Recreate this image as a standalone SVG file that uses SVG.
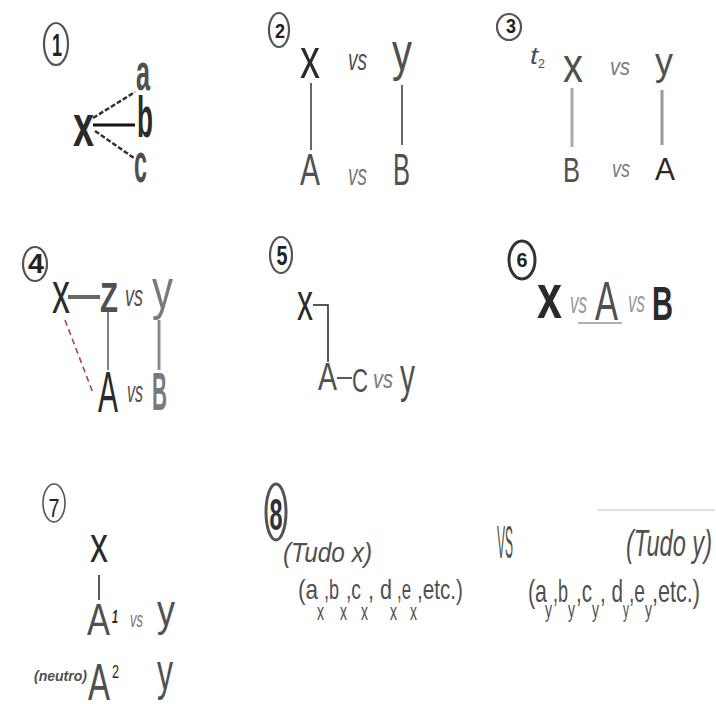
<svg xmlns="http://www.w3.org/2000/svg" width="716" height="704" viewBox="0 0 716 704">
<style>
text{font-family:"Liberation Sans","DejaVu Sans",sans-serif;}
.d{fill:#2a2a2a}.g{fill:#505050}.l{fill:#7a7a7a}.ll{fill:#999}
.it{font-style:italic}.b{font-weight:bold}
.oval{fill:none;stroke:#555;stroke-width:2.2}
.n{font-weight:bold;fill:#222;text-anchor:middle}
.c{stroke:#333;stroke-width:1.5;fill:none}
.cg{stroke:#8a8a8a;stroke-width:3;fill:none}
</style>
<rect width="716" height="704" fill="#fff"/>

<!-- circled numbers -->
<g id="num1"><ellipse class="oval" cx="56" cy="44" rx="12" ry="21"/><text class="n" x="57" y="56" font-size="32" textLength="10" lengthAdjust="spacingAndGlyphs">1</text></g>
<g id="num2"><ellipse class="oval" cx="279" cy="30" rx="10" ry="17"/><text class="n" x="280" y="38" font-size="21" textLength="10" lengthAdjust="spacingAndGlyphs">2</text></g>
<g id="num3"><ellipse class="oval" cx="509" cy="27" rx="12" ry="13"/><text class="n" x="511" y="33" font-size="20" textLength="10" lengthAdjust="spacingAndGlyphs">3</text></g>
<g id="num4"><ellipse class="oval" cx="35" cy="264" rx="12" ry="17"/><text class="n" x="36" y="273" font-size="27" textLength="16" lengthAdjust="spacingAndGlyphs">4</text></g>
<g id="num5"><ellipse class="oval" cx="281" cy="255" rx="11" ry="18"/><text class="n" x="282" y="265" font-size="27" textLength="11" lengthAdjust="spacingAndGlyphs">5</text></g>
<g id="num6"><ellipse class="oval" cx="522" cy="260" rx="13" ry="19" style="stroke:#333;stroke-width:3"/><text class="n" x="522" y="267" font-size="21" textLength="11" lengthAdjust="spacingAndGlyphs">6</text></g>
<g id="num7"><ellipse class="oval" cx="54" cy="503" rx="11" ry="19" style="stroke-width:1.6"/><text class="n" x="54" y="517" font-size="26" textLength="11" lengthAdjust="spacingAndGlyphs" style="font-weight:normal">7</text></g>
<g id="num8"><ellipse class="oval" cx="276" cy="512" rx="10" ry="28" style="stroke-width:3"/><text class="n" x="276" y="530" font-size="44" textLength="13" lengthAdjust="spacingAndGlyphs" style="fill:#333">8</text></g>

<!-- connectors -->
<g id="connectors">
  <line class="c" x1="93" y1="118" x2="135" y2="92" stroke-dasharray="5 2" style="stroke-width:2.5"/>
  <line class="c" x1="93" y1="125" x2="135" y2="125" style="stroke-width:3;stroke:#111"/>
  <line class="c" x1="95" y1="131" x2="134" y2="158" stroke-dasharray="5 2" style="stroke-width:2.5"/>
  <line class="c" x1="311" y1="83" x2="311" y2="150"/>
  <line class="c" x1="402" y1="85" x2="402" y2="145"/>
  <line class="cg" x1="572" y1="88" x2="572" y2="147" style="stroke:#aaa"/>
  <line class="cg" x1="662" y1="90" x2="662" y2="145" style="stroke:#999"/>
  <line class="c" x1="68" y1="297" x2="100" y2="297" style="stroke:#666;stroke-width:4"/>
  <line class="c" x1="108" y1="312" x2="108" y2="370" style="stroke:#555"/>
  <line class="cg" x1="159" y1="320" x2="159" y2="370"/>
  <line x1="65" y1="320" x2="93" y2="393" stroke="#b04050" stroke-width="1.6" stroke-dasharray="6 4"/>
  <polyline class="c" points="313,305 328,305 328,362" style="stroke:#222"/>
  <line class="c" x1="337" y1="378" x2="352" y2="378" style="stroke:#222"/>
  <line class="c" x1="99" y1="575" x2="99" y2="600" style="stroke:#222"/>
  <line x1="578" y1="323" x2="622" y2="323" stroke="#b0b0b0" stroke-width="2"/>
</g>

<!-- panel 1 -->
<g id="p1-x"><text class="d b" x="73" y="146" font-size="60" textLength="21" lengthAdjust="spacingAndGlyphs">x</text></g>
<g id="p1-a"><text class="g b" x="136" y="90" font-size="52" textLength="14" lengthAdjust="spacingAndGlyphs">a</text></g>
<g id="p1-b"><text class="d b" x="137" y="137" font-size="58" textLength="16" lengthAdjust="spacingAndGlyphs">b</text></g>
<g id="p1-c"><text class="g b" x="134" y="182" font-size="56" textLength="13" lengthAdjust="spacingAndGlyphs">c</text></g>

<!-- panel 2 -->
<g id="p2-x"><text class="d" x="300" y="78" font-size="58" textLength="20" lengthAdjust="spacingAndGlyphs">x</text></g>
<text class="g it" x="348" y="70" font-size="29" textLength="19" lengthAdjust="spacingAndGlyphs">vs</text>
<g id="p2-y"><text class="g" x="392" y="70" font-size="51" textLength="20" lengthAdjust="spacingAndGlyphs">y</text></g>
<g id="p2-A"><text class="g" x="300" y="185" font-size="45" textLength="20" lengthAdjust="spacingAndGlyphs">A</text></g>
<text class="l it" x="348" y="185" font-size="29" textLength="19" lengthAdjust="spacingAndGlyphs">vs</text>
<g id="p2-B"><text class="g" x="393" y="185" font-size="45" textLength="17" lengthAdjust="spacingAndGlyphs">B</text></g>

<!-- panel 3 -->
<text class="g it" x="530" y="64" font-size="24" textLength="8" lengthAdjust="spacingAndGlyphs">t</text>
<text class="g" x="538" y="68" font-size="12" textLength="7" lengthAdjust="spacingAndGlyphs">2</text>
<g id="p3-x"><text class="g" x="563" y="82" font-size="48" textLength="20" lengthAdjust="spacingAndGlyphs">x</text></g>
<text class="l it" x="610" y="75" font-size="23" textLength="20" lengthAdjust="spacingAndGlyphs">vs</text>
<g id="p3-y"><text class="g" x="655" y="75" font-size="38" textLength="18" lengthAdjust="spacingAndGlyphs">y</text></g>
<g id="p3-B"><text class="g" x="563" y="182" font-size="35" textLength="17" lengthAdjust="spacingAndGlyphs">B</text></g>
<text class="l it" x="612" y="177" font-size="23" textLength="18" lengthAdjust="spacingAndGlyphs">vs</text>
<g id="p3-A"><text class="d" x="655" y="180" font-size="32" textLength="20" lengthAdjust="spacingAndGlyphs">A</text></g>

<!-- panel 4 -->
<g id="p4-x"><text class="d" x="52" y="313" font-size="60" textLength="18" lengthAdjust="spacingAndGlyphs">x</text></g>
<g id="p4-Z"><text class="g b" x="100" y="312" font-size="42" textLength="18" lengthAdjust="spacingAndGlyphs">Z</text></g>
<text class="g it" x="125" y="306" font-size="29" textLength="18" lengthAdjust="spacingAndGlyphs">vs</text>
<g id="p4-y"><text class="l" x="152" y="308" font-size="55" textLength="21" lengthAdjust="spacingAndGlyphs">y</text></g>
<g id="p4-A"><text class="d" x="98" y="412" font-size="58" textLength="20" lengthAdjust="spacingAndGlyphs">A</text></g>
<text class="g it" x="127" y="402" font-size="29" textLength="16" lengthAdjust="spacingAndGlyphs">vs</text>
<g id="p4-B"><text class="l b" x="152" y="410" font-size="53" textLength="15" lengthAdjust="spacingAndGlyphs">B</text></g>

<!-- panel 5 -->
<g id="p5-x"><text class="d" x="297" y="320" font-size="54" textLength="16" lengthAdjust="spacingAndGlyphs">x</text></g>
<g id="p5-A"><text class="g" x="318" y="390" font-size="38" textLength="19" lengthAdjust="spacingAndGlyphs">A</text></g>
<g id="p5-C"><text class="g" x="352" y="392" font-size="34" textLength="16" lengthAdjust="spacingAndGlyphs">C</text></g>
<text class="l it" x="373" y="388" font-size="26" textLength="20" lengthAdjust="spacingAndGlyphs">vs</text>
<g id="p5-y"><text class="g" x="400" y="392" font-size="48" textLength="15" lengthAdjust="spacingAndGlyphs">y</text></g>

<!-- panel 6 -->
<g id="p6-x"><text class="d b" x="537" y="318" font-size="63" textLength="25" lengthAdjust="spacingAndGlyphs">x</text></g>
<text class="ll it" x="570" y="313" font-size="30" textLength="17" lengthAdjust="spacingAndGlyphs">vs</text>
<g id="p6-A"><text class="g" x="595" y="320" font-size="56" textLength="23" lengthAdjust="spacingAndGlyphs">A</text></g>
<text class="ll it" x="628" y="312" font-size="30" textLength="17" lengthAdjust="spacingAndGlyphs">vs</text>
<g id="p6-B"><text class="d b" x="652" y="320" font-size="49" textLength="21" lengthAdjust="spacingAndGlyphs">B</text></g>

<!-- panel 7 -->
<g id="p7-x"><text class="d" x="90" y="562" font-size="52" textLength="18" lengthAdjust="spacingAndGlyphs">x</text></g>
<g id="p7-A1"><text class="g" x="87" y="635" font-size="45" textLength="23" lengthAdjust="spacingAndGlyphs">A</text><text class="d it b" x="112" y="623" font-size="18" textLength="6" lengthAdjust="spacingAndGlyphs">1</text></g>
<text class="l it" x="130" y="627" font-size="22" textLength="13" lengthAdjust="spacingAndGlyphs">vs</text>
<g id="p7-y1"><text class="g" x="157" y="626" font-size="45" textLength="18" lengthAdjust="spacingAndGlyphs">y</text></g>
<g id="p7-A2"><text class="g it b" x="34" y="681" font-size="15" textLength="53" lengthAdjust="spacingAndGlyphs">(neutro)</text><text class="g" x="88" y="700" font-size="52" textLength="22" lengthAdjust="spacingAndGlyphs">A</text><text class="d" x="112" y="678" font-size="18" textLength="7" lengthAdjust="spacingAndGlyphs">2</text></g>
<g id="p7-y2"><text class="g" x="157" y="689" font-size="52" textLength="16" lengthAdjust="spacingAndGlyphs">y</text></g>

<!-- panel 8 -->
<g id="p8-left" class="g">
<text class="g it" x="283" y="562" font-size="28" textLength="89" lengthAdjust="spacingAndGlyphs">(Tudo x)</text>
<text class="g" x="298" y="599" font-size="28" textLength="20" lengthAdjust="spacingAndGlyphs">(a</text>
<text class="g" x="317" y="620" font-size="24" textLength="7" lengthAdjust="spacingAndGlyphs">x</text>
<text class="g" x="324" y="599" font-size="28" textLength="15" lengthAdjust="spacingAndGlyphs">,b</text>
<text class="g" x="340" y="620" font-size="24" textLength="7" lengthAdjust="spacingAndGlyphs">x</text>
<text class="g" x="346" y="599" font-size="28" textLength="15" lengthAdjust="spacingAndGlyphs">,c</text>
<text class="g" x="361" y="620" font-size="24" textLength="7" lengthAdjust="spacingAndGlyphs">x</text>
<text class="g" x="368" y="599" font-size="28" textLength="24" lengthAdjust="spacingAndGlyphs">, d</text>
<text class="g" x="390" y="620" font-size="24" textLength="7" lengthAdjust="spacingAndGlyphs">x</text>
<text class="g" x="397" y="599" font-size="28" textLength="14" lengthAdjust="spacingAndGlyphs">,e</text>
<text class="g" x="410" y="620" font-size="24" textLength="7" lengthAdjust="spacingAndGlyphs">x</text>
<text class="g" x="417" y="599" font-size="28" textLength="46" lengthAdjust="spacingAndGlyphs">,etc.)</text>
</g>
<text class="g" x="497" y="558" font-size="46" textLength="16" lengthAdjust="spacingAndGlyphs">VS</text>
<line x1="598" y1="510" x2="715" y2="510" stroke="#e0e0e0" stroke-width="2"/>
<g id="p8-right">
<text class="g it" x="626" y="556" font-size="37" textLength="86" lengthAdjust="spacingAndGlyphs">(Tudo y)</text>
<text class="g" x="528" y="602" font-size="32" textLength="19" lengthAdjust="spacingAndGlyphs">(a</text>
<text class="g" x="545" y="617" font-size="22" textLength="7" lengthAdjust="spacingAndGlyphs">y</text>
<text class="g" x="553" y="602" font-size="32" textLength="15" lengthAdjust="spacingAndGlyphs">,b</text>
<text class="g" x="568" y="617" font-size="22" textLength="7" lengthAdjust="spacingAndGlyphs">y</text>
<text class="g" x="576" y="602" font-size="32" textLength="16" lengthAdjust="spacingAndGlyphs">,c</text>
<text class="g" x="592" y="617" font-size="22" textLength="7" lengthAdjust="spacingAndGlyphs">y</text>
<text class="g" x="600" y="602" font-size="32" textLength="23" lengthAdjust="spacingAndGlyphs">, d</text>
<text class="g" x="623" y="617" font-size="22" textLength="6" lengthAdjust="spacingAndGlyphs">y</text>
<text class="g" x="629" y="602" font-size="32" textLength="16" lengthAdjust="spacingAndGlyphs">,e</text>
<text class="g" x="645" y="617" font-size="22" textLength="7" lengthAdjust="spacingAndGlyphs">y</text>
<text class="g" x="652" y="602" font-size="32" textLength="48" lengthAdjust="spacingAndGlyphs">,etc.)</text>
</g>
</svg>
